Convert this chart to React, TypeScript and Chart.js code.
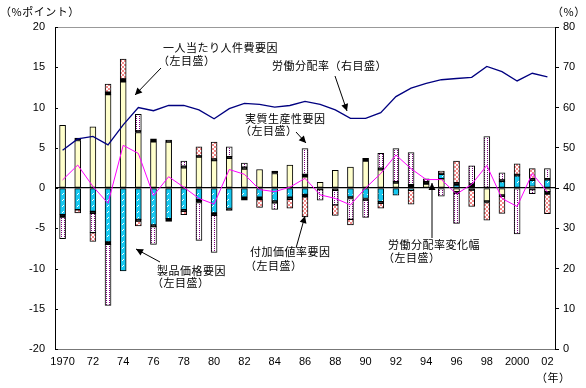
import React, { useEffect, useRef } from "react";
import { Chart, registerables } from "chart.js";
Chart.register(...registerables);

const xLabels = ["1970","71","72","73","74","75","76","77","78","79","80","81","82","83","84","85","86","87","88","89","90","91","92","93","94","95","96","97","98","99","2000","01","02"];

// 一人当たり人件費要因
const laborCost = [7.8,5.9,7.6,11.6,13.2,6.9,5.75,5.7,2.5,3.85,3.4,3.7,2.35,2.3,1.8,2.85,1.4,0.7,2.2,2.6,3.35,2.25,0.6,0,0.5,1.15,-0.45,0,-1.6,-0.85,0,0.2,-0.45];
// 製品価格要因
const priceFactor = [-3.3,-2.7,-2.9,-6.7,-10.3,-3.9,-4.6,-3.8,-2.7,-1.45,-3.1,-2.55,-1.15,-1.15,-1.6,-1.15,-0.8,0,0,-1.1,-1.3,-1.7,-0.9,-0.3,0,0.55,0.35,0,0,0.8,1.5,0.75,1.0];
// その他（黒）
const otherUp = [0,0.3,0,0.3,0.35,0.2,0.35,0.25,0.2,0.15,0.2,0.2,0.25,0,0.3,0,0.3,0,0,0,0.35,0.2,0.2,0.4,0.3,0.15,0.3,0.5,0,0.2,0.2,0.2,0.15];
const otherDown = [-0.3,0,-0.25,-0.3,0,-0.2,-0.2,-0.35,-0.2,-0.35,-0.3,-0.25,-0.35,-0.3,-0.25,-0.25,-0.3,-0.2,-0.3,-0.2,-0.2,-0.2,0,0,0,0,-0.2,-0.25,-0.2,-0.2,0,-0.2,-0.3];
// 実質生産性要因
const productivity = [-2.7,0,-2.4,-7.6,0,2.05,-2.2,0,0.65,-4.7,-4.6,1.2,0.5,0,-0.8,0,3.2,-1.3,-1.8,-2.6,-2.15,1.85,4.1,4.0,0.35,-1.0,-3.75,2.25,6.4,0.9,-5.7,-0.5,1.25];
// 付加価値率要因
const valueAdded = [0,-0.4,-1.1,1.0,2.45,-0.6,0,0,-0.4,1.1,2.1,0,0,-0.95,0,-1.1,-2.5,0,-1.3,-0.7,0,-0.6,0,-1.7,0,0.25,2.7,-2.05,-2.2,-2.1,1.3,1.25,-2.45];
// 労働分配率変化幅（左目盛）
const shareChange = [1.0,2.85,0.2,-1.9,5.3,4.3,-0.95,1.4,0.1,-1.3,-2.0,2.3,1.7,-0.2,-0.45,0.1,1.2,-0.85,-1.3,-2.1,0,1.8,4.1,2.4,1.05,1.05,-0.75,0.45,2.8,-1.3,-2.3,1.8,-0.5];
// 労働分配率（右目盛）
const laborShare = [49.4,52.2,52.8,50.7,55.7,60.0,59.2,60.5,60.5,59.4,57.2,59.7,61.0,60.8,60.1,60.5,61.5,60.8,59.4,57.3,57.3,58.7,62.7,64.8,66.0,66.9,67.2,67.5,70.2,68.9,66.6,68.5,67.6];

const leftTicks = [20,15,10,5,0,-5,-10,-15,-20];
const rightTicks = [80,70,60,50,40,30,20,10,0];

const nz = (a: number[]) => a.map((v) => (v === 0 ? null : v));

function makePattern(w: number, h: number, bg: string, fg: string, pts: number[][]) {
  const c = document.createElement("canvas");
  c.width = w;
  c.height = h;
  const g = c.getContext("2d")!;
  g.fillStyle = bg;
  g.fillRect(0, 0, w, h);
  g.fillStyle = fg;
  for (const p of pts) g.fillRect(p[0], p[1], p[2] ?? 1, p[3] ?? 1);
  return g.createPattern(c, "repeat")!;
}

function arrow(ctx: CanvasRenderingContext2D, x1: number, y1: number, x2: number, y2: number) {
  ctx.beginPath();
  ctx.moveTo(x1, y1);
  ctx.lineTo(x2, y2);
  ctx.stroke();
  const a = Math.atan2(y2 - y1, x2 - x1);
  const L = 7, W = 3.5;
  ctx.beginPath();
  ctx.moveTo(x2, y2);
  ctx.lineTo(x2 - L * Math.cos(a) + W * Math.sin(a), y2 - L * Math.sin(a) - W * Math.cos(a));
  ctx.lineTo(x2 - L * Math.cos(a) - W * Math.sin(a), y2 - L * Math.sin(a) + W * Math.cos(a));
  ctx.closePath();
  ctx.fill();
}

const annotPlugin = {
  id: "annot",
  afterDraw(chart: any) {
    const ctx = chart.ctx as CanvasRenderingContext2D;
    const ys = chart.scales.y;
    const area = chart.chartArea;
    ctx.save();
    ctx.strokeStyle = "#000";
    ctx.lineWidth = 1;
    for (const v of leftTicks) {
      const y = Math.round(ys.getPixelForValue(v)) + 0.5;
      ctx.beginPath();
      ctx.moveTo(area.left, y);
      ctx.lineTo(area.left + 3, y);
      ctx.stroke();
    }
    ctx.fillStyle = "#000";
    ctx.font = '11px "Noto Sans CJK JP"';
    (ctx as any).letterSpacing = "0.5px";
    ctx.textBaseline = "middle";
    ctx.textAlign = "left";
    ctx.fillText("（%ポイント）", 0, 12);
    ctx.fillText("（%）", 552, 12);
    ctx.fillText("（年）", 536, 378);
    ctx.fillText("一人当たり人件費要因", 163, 48);
    ctx.fillText("（左目盛）", 158, 61);
    ctx.fillText("労働分配率（右目盛）", 272, 66);
    ctx.fillText("実質生産性要因", 245, 119);
    ctx.fillText("（左目盛）", 240, 131);
    ctx.fillText("付加価値率要因", 250, 252);
    ctx.fillText("（左目盛）", 245, 266);
    ctx.fillText("製品価格要因", 157, 271);
    ctx.fillText("（左目盛）", 152, 283);
    ctx.fillText("労働分配率変化幅", 388, 245);
    ctx.fillText("（左目盛）", 383, 258);
    arrow(ctx, 161, 68, 135, 95);
    arrow(ctx, 335, 76, 347, 111);
    arrow(ctx, 296, 132, 306, 143);
    arrow(ctx, 296, 248, 305, 216);
    arrow(ctx, 160, 262, 136, 249);
    arrow(ctx, 432, 238, 432, 183);
    ctx.restore();
  },
};

export default function App() {
  const ref = useRef<HTMLCanvasElement>(null);
  useEffect(() => {
    document.body.style.margin = "0";
    const cyan = makePattern(5, 6, "#17C8F0", "#FFFFFF", [[3, 1], [2, 2]]);
    const checker = makePattern(4, 4, "#FFFFFF", "#F48A8A", [[0, 0, 2, 2], [2, 2, 2, 2]]);
    const dots = makePattern(3, 2, "#FFFFFF", "#800080", [[1, 0]]);
    const barBase = {
      type: "bar" as const,
      stack: "s",
      yAxisID: "y",
      order: 1,
      barThickness: 6,
      borderColor: "#000",
      borderWidth: 1,
      borderSkipped: false as const,
    };
    const tickFont = { family: '"Liberation Sans", Arial, sans-serif', size: 11 };
    const chart = new Chart(ref.current!, {
      type: "bar",
      data: {
        labels: xLabels,
        datasets: [
          { ...barBase, label: "一人当たり人件費要因", data: nz(laborCost), backgroundColor: "#FFFFCC" },
          { ...barBase, label: "製品価格要因", data: nz(priceFactor), backgroundColor: cyan },
          { ...barBase, label: "その他(+)", data: nz(otherUp), backgroundColor: "#000" },
          { ...barBase, label: "その他(-)", data: nz(otherDown), backgroundColor: "#000" },
          { ...barBase, label: "実質生産性要因", data: nz(productivity), backgroundColor: dots },
          { ...barBase, label: "付加価値率要因", data: nz(valueAdded), backgroundColor: checker },
          {
            type: "line" as const,
            label: "労働分配率変化幅",
            data: shareChange,
            yAxisID: "y",
            order: 0,
            borderColor: "#FF00FF",
            borderWidth: 1,
            pointRadius: 0,
            tension: 0,
          },
          {
            type: "line" as const,
            label: "労働分配率",
            data: laborShare,
            yAxisID: "y1",
            order: 0,
            borderColor: "#000080",
            borderWidth: 1.3,
            pointRadius: 0,
            tension: 0,
          },
        ] as any,
      },
      options: {
        responsive: false,
        animation: false,
        layout: { padding: { top: 27, left: 0, right: 0, bottom: 0 } },
        plugins: { legend: { display: false }, tooltip: { enabled: false }, title: { display: false } },
        scales: {
          x: {
            type: "category",
            offset: true,
            stacked: true,
            grid: { display: false, drawTicks: false },
            border: { display: true, color: "#777" },
            ticks: {
              autoSkip: false,
              maxRotation: 0,
              padding: 6,
              color: "#000",
              font: tickFont,
              callback: (_v: any, i: number) => (i % 2 === 0 ? xLabels[i] : ""),
            },
            afterFit: (s: any) => { s.height = 39; },
          },
          y: {
            position: "left",
            stacked: true,
            min: -20,
            max: 20,
            ticks: { stepSize: 5, padding: 10, color: "#000", font: tickFont },
            grid: {
              drawTicks: false,
              color: (c: any) => (c.tick.value === 0 ? "#000" : c.tick.value === 20 ? "#999" : "rgba(0,0,0,0)"),
              lineWidth: (c: any) => (c.tick.value === 0 ? 1.2 : 1),
            },
            border: { display: true, color: "#000" },
            afterFit: (s: any) => { s.width = 55; },
          },
          y1: {
            position: "right",
            min: 0,
            max: 80,
            ticks: { stepSize: 10, padding: 4, color: "#000", font: tickFont },
            grid: { drawOnChartArea: false, drawTicks: true, tickLength: 4, color: "#000" },
            border: { display: true, color: "#000" },
            afterFit: (s: any) => { s.width = 31; },
          },
        },
      } as any,
      plugins: [annotPlugin],
    });
    return () => chart.destroy();
  }, []);
  return <canvas ref={ref} width={586} height={388} style={{ display: "block" }} />;
}
